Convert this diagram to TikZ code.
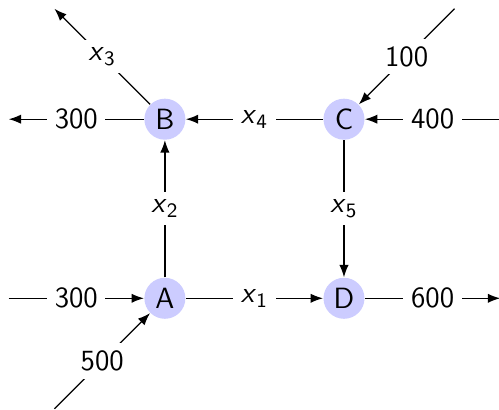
\documentclass[tikz,border=0pt]{standalone}
\usepackage{xcolor}
\usepackage{tikz}
\usetikzlibrary{arrows.meta, calc}
\definecolor{nodeblue}{RGB}{204,204,255}
\definecolor{mydark}{RGB}{0,0,0}
\newcommand{\flowvar}[1]{\textit{x}\textsubscript{#1}}
\newcommand{\labelfont}{\fontsize{13.5}{16}\selectfont\sffamily}
\tikzset{
  station/.style={circle, fill=nodeblue, minimum size=18.9pt,
    inner sep=0pt, font=\labelfont},
  flow/.style={-{Latex}, semithick, color=mydark},
  amount/.style={fill=white, inner sep=3.5pt, font=\labelfont}
}

\begin{document}
\begin{tikzpicture}
  \useasboundingbox (-2.67,-1.80) rectangle (5.41,4.83);
  % Stations
  \node[station] (A) at (0,0) {A};
  \node[station] (D) at (2.9,0) {D};
  \node[station] (B) at (0,2.9) {B};
  \node[station] (C) at (2.9,2.9) {C};

  % Outer ends of the supply and demand arcs
  \coordinate (inA) at ($(A)+(180:2.53)$);
  \coordinate (swA) at ($(A)+(225:2.53)$);
  \coordinate (outB) at ($(B)+(180:2.53)$);
  \coordinate (nwB) at ($(B)+(135:2.53)$);
  \coordinate (neC) at ($(C)+(45:2.53)$);
  \coordinate (inC) at ($(C)+(0:2.53)$);
  \coordinate (outD) at ($(D)+(0:2.53)$);

  % Supply and demand
  \draw[flow] (inA) -- node[amount] {300} (A);
  \draw[flow] (swA) -- node[amount] {500} (A);
  \draw[flow] (B) -- node[amount] {300} (outB);
  \draw[flow] (B) -- node[amount] {\flowvar{3}} (nwB);
  \draw[flow] (neC) -- node[amount] {100} (C);
  \draw[flow] (inC) -- node[amount] {400} (C);
  \draw[flow] (D) -- node[amount] {600} (outD);

  % Flows between stations
  \draw[flow] (A) -- node[amount] {\flowvar{2}} (B);
  \draw[flow] (C) -- node[amount] {\flowvar{4}} (B);
  \draw[flow] (A) -- node[amount] {\flowvar{1}} (D);
  \draw[flow] (C) -- node[amount] {\flowvar{5}} (D);
\end{tikzpicture}
\end{document}
